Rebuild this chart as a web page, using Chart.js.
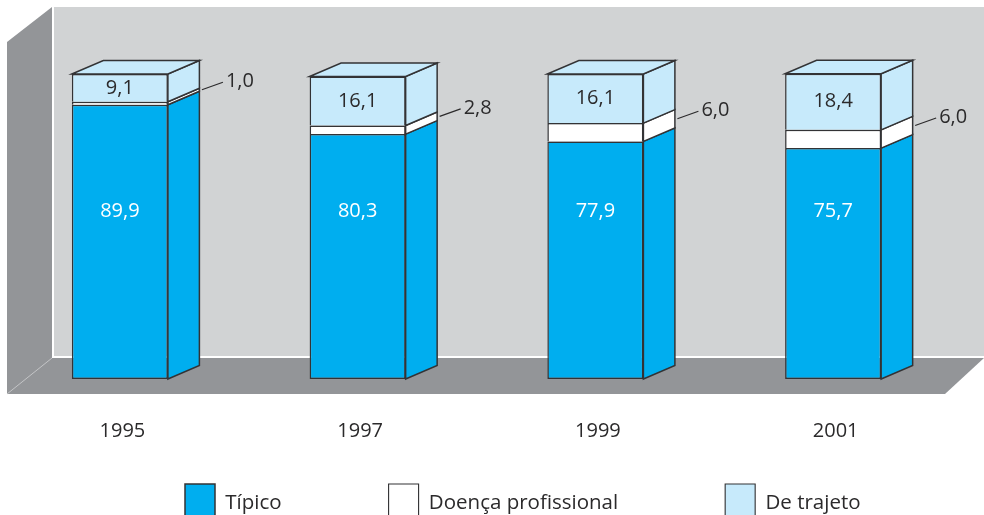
<!DOCTYPE html>
<html>
<head>
<meta charset="utf-8">
<style>
  html, body { margin: 0; padding: 0; background: #fff; overflow: hidden; }
  canvas { display: block; }
</style>
<script src="https://cdn.jsdelivr.net/npm/chart.js@4"></script>
</head>
<body>
<canvas id="chart" width="984" height="515"></canvas>
<script>
const years     = ['1995', '1997', '1999', '2001'];
const tipico    = [89.9, 80.3, 77.9, 75.7];
const doenca    = [1.0, 2.8, 6.0, 6.0];
const trajeto   = [9.1, 16.1, 16.1, 18.4];

const FONT      = '"Open Sans", sans-serif';
const INK       = '#2b2a2b';
const OUTLINE   = '#333335';
const BLUE      = '#00aeef';
const PALE      = '#c7eafb';
const DEPTH_X   = 31.5;
const DEPTH_Y   = 13.5;

const comma = v => v.toFixed(1).replace('.', ',');

function poly(ctx, pts, fill, stroke, width) {
    ctx.beginPath();
    pts.forEach((p, i) => i ? ctx.lineTo(p[0], p[1]) : ctx.moveTo(p[0], p[1]));
    ctx.closePath();
    if (fill) { ctx.fillStyle = fill; ctx.fill(); }
    if (stroke) { ctx.strokeStyle = stroke; ctx.lineWidth = width; ctx.stroke(); }
}

// back wall, left wall and floor of the box
const roomPlugin = {
    id: 'room',
    beforeDraw(chart) {
        const { ctx } = chart;
        ctx.save();
        ctx.fillStyle = '#d1d3d4';
        ctx.fillRect(54, 7, 930, 349);
        poly(ctx, [[7, 42], [52, 7], [52, 394], [7, 394]], '#939598');
        poly(ctx, [[7, 394], [52, 358], [984, 358], [945, 394]], '#939598');
        ctx.strokeStyle = '#c4c5c7';
        ctx.lineWidth = 1;
        ctx.beginPath();
        ctx.moveTo(7, 394);
        ctx.lineTo(52, 358);
        ctx.stroke();
        ctx.restore();
    }
};

// side and top faces of the columns, then the value labels
const columnPlugin = {
    id: 'column',
    afterDatasetsDraw(chart) {
        const { ctx } = chart;
        const yScale = chart.scales.y;
        ctx.save();
        chart.data.datasets.forEach((ds, d) => {
            chart.getDatasetMeta(d).data.forEach(bar => {
                const right = bar.x + bar.width / 2;
                const left  = bar.x - bar.width / 2;
                poly(ctx, [[right, bar.base], [right + DEPTH_X, bar.base - DEPTH_Y],
                           [right + DEPTH_X, bar.y - DEPTH_Y], [right, bar.y]],
                     ds.backgroundColor, OUTLINE, 1.5);
                if (d === chart.data.datasets.length - 1) {
                    poly(ctx, [[left, bar.y], [left + DEPTH_X, bar.y - DEPTH_Y],
                               [right + DEPTH_X, bar.y - DEPTH_Y], [right, bar.y]],
                         ds.backgroundColor, OUTLINE, 1.5);
                }
            });
        });

        ctx.font = '20px ' + FONT;
        ctx.textBaseline = 'middle';
        years.forEach((_, i) => {
            const blue  = chart.getDatasetMeta(0).data[i];
            const white = chart.getDatasetMeta(1).data[i];
            const pale  = chart.getDatasetMeta(2).data[i];

            ctx.textAlign = 'center';
            ctx.fillStyle = '#fff';
            ctx.fillText(comma(tipico[i]), blue.x, yScale.getPixelForValue(55));
            ctx.fillStyle = INK;
            ctx.fillText(comma(trajeto[i]), pale.x, (pale.y + pale.base) / 2);

            // leader line for the thin middle band
            const sx = white.x + white.width / 2 + DEPTH_X + 2.5;
            const sy = (white.y + white.base) / 2 - DEPTH_Y;
            ctx.strokeStyle = INK;
            ctx.lineWidth = 1.2;
            ctx.beginPath();
            ctx.moveTo(sx, sy);
            ctx.lineTo(sx + 21, sy - 7.5);
            ctx.stroke();
            ctx.textAlign = 'left';
            ctx.fillStyle = INK;
            ctx.fillText(comma(doenca[i]), sx + 24, sy - 8.5);
        });
        ctx.restore();
    }
};

// legend sits in its own row under the axis, off-centre
const legendPlacePlugin = {
    id: 'legendPlace',
    afterLayout(chart) {
        const legend = chart.legend;
        const pad = legend.options.labels.padding;
        legend.left   = 185 - pad;
        legend.right  = chart.width;
        legend.top    = 484 - pad;
        legend.bottom = chart.height;
    }
};

function band(label, data, color, bottom) {
    return {
        label,
        data,
        backgroundColor: color,
        borderColor:     OUTLINE,
        borderWidth:     { top: 1.5, left: 1.5, right: 1.5, bottom },
        borderSkipped:   false,
        clip:            false,
    };
}

new Chart(document.getElementById('chart').getContext('2d'), {
    type: 'bar',
    data: {
        labels:   years,
        datasets: [
            band('Típico', tipico, BLUE, 1.5),
            band('Doença profissional', doenca, '#ffffff', 0),
            band('De trajeto', trajeto, PALE, 0),
        ]
    },
    plugins: [roomPlugin, columnPlugin, legendPlacePlugin],
    options: {
        responsive: false,
        animation:  false,
        events:     [],
        layout: { padding: { left: 1, right: 32, top: 74, bottom: 35 } },
        categoryPercentage: 0.404,
        barPercentage:      1,
        plugins: {
            tooltip: { enabled: false },
            legend: {
                position:  'bottom',
                align:     'start',
                maxHeight: 1,
                labels: {
                    boxWidth:  30,
                    boxHeight: 38,
                    padding:   107,
                    color:     INK,
                    font:      { family: FONT, size: 20.5 },
                }
            }
        },
        scales: {
            x: {
                stacked: true,
                grid:    { display: false },
                border:  { display: false },
                ticks:   { color: INK, padding: 32, labelOffset: 2.5, font: { family: FONT, size: 20 }, maxRotation: 0 },
                afterFit(scale) { scale.height = 100; },
            },
            y: {
                stacked: true,
                display: false,
                min:     0,
                max:     100,
            }
        }
    }
});
</script>
</body>
</html>
